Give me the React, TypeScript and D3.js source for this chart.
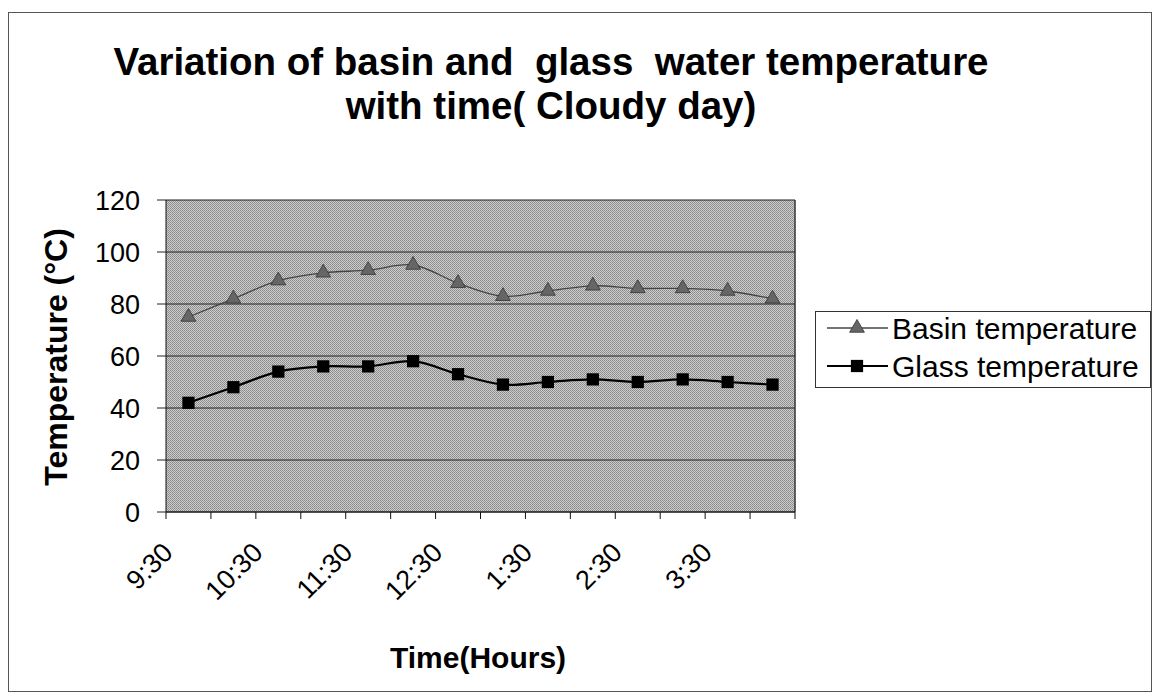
import * as d3 from 'd3';

// half-hour readings, 9:30 to 4:00
const times = ['9:30', '10:00', '10:30', '11:00', '11:30', '12:00', '12:30', '1:00', '1:30', '2:00', '2:30', '3:00', '3:30', '4:00'];
const basinTemp = [75, 82, 89, 92, 93, 95, 88, 83, 85, 87, 86, 86, 85, 82];
const glassTemp = [42, 48, 54, 56, 56, 58, 53, 49, 50, 51, 50, 51, 50, 49];
const tickLabels = ['9:30', '10:30', '11:30', '12:30', '1:30', '2:30', '3:30'];
const yTicks = [0, 20, 40, 60, 80, 100, 120];

const FONT = '"Liberation Sans", Arial, sans-serif';

const App = () => {
	const margin = { top: 200, right: 795, bottom: 512, left: 166 };

	const x = d3.scaleBand<string>().domain(times).range([margin.left, margin.right]);
	const y = d3.scaleLinear().domain([0, 120]).range([margin.bottom, margin.top]);
	const cx = (t: string) => (x(t) ?? 0) + x.bandwidth() / 2;

	const line = d3
		.line<number>()
		.x((d, i) => cx(times[i]))
		.y((d) => y(d))
		.curve(d3.curveCatmullRom.alpha(0.5));

	const tri = d3.symbol(d3.symbolTriangle, 95)()!;
	const sq = d3.symbol(d3.symbolSquare, 150)()!;

	const edges = [...times.map((t) => x(t) ?? 0), margin.right];

	return (
		<div style={{ position: 'absolute', left: 0, top: 0 }}>
			<svg width={1160} height={700} style={{ display: 'block', fontFamily: FONT }}>
				<defs>
					<pattern id="dither" width={2} height={2} patternUnits="userSpaceOnUse">
						<rect width={2} height={2} fill="#cdcdcd" />
						<rect width={1} height={1} fill="#888" />
						<rect x={1} y={1} width={1} height={1} fill="#949494" />
					</pattern>
				</defs>
				<rect width={1160} height={700} fill="#fff" />
				<rect x={8.5} y={12.5} width={1143} height={679} fill="none" stroke="#555" strokeWidth={1} />

				{/* title */}
				<text x={551} y={75} textAnchor="middle" fontSize={38.5} fontWeight="bold" style={{ whiteSpace: 'pre' }}>
					Variation of basin and  glass  water temperature
				</text>
				<text x={551} y={119} textAnchor="middle" fontSize={38.5} fontWeight="bold">
					with time( Cloudy day)
				</text>

				{/* plot area */}
				<rect
					x={margin.left}
					y={margin.top}
					width={margin.right - margin.left}
					height={margin.bottom - margin.top}
					fill="url(#dither)"
				/>
				{yTicks.map((v) => (
					<g key={v}>
						<line x1={margin.left - 9} x2={margin.right} y1={y(v)} y2={y(v)} stroke="#222" strokeWidth={1} />
						<text x={140} y={y(v)} dy="0.36em" textAnchor="end" fontSize={27}>
							{v}
						</text>
					</g>
				))}
				<line x1={margin.left} x2={margin.left} y1={margin.top} y2={margin.bottom} stroke="#111" />
				<line x1={margin.right} x2={margin.right} y1={margin.top} y2={margin.bottom} stroke="#333" strokeWidth={1.5} />
				<line x1={margin.left} x2={margin.right} y1={margin.bottom} y2={margin.bottom} stroke="#111" />
				{edges.map((e, i) => (
					<line key={i} x1={e} x2={e} y1={margin.bottom} y2={margin.bottom + 7} stroke="#111" />
				))}

				{/* x labels on every other category */}
				{tickLabels.map((t) => (
					<text
						key={t}
						transform={`translate(${cx(t) - 14},${margin.bottom + 42}) rotate(-45)`}
						textAnchor="end"
						fontSize={27}
					>
						{t}
					</text>
				))}

				{/* series */}
				<path d={line(basinTemp) ?? ''} fill="none" stroke="#444" strokeWidth={1.3} />
				{basinTemp.map((v, i) => (
					<path key={i} d={tri} transform={`translate(${cx(times[i])},${y(v)})`} fill="#666" stroke="#333" strokeWidth={0.8} />
				))}
				<path d={line(glassTemp) ?? ''} fill="none" stroke="#000" strokeWidth={2.2} />
				{glassTemp.map((v, i) => (
					<path key={i} d={sq} transform={`translate(${cx(times[i])},${y(v)})`} fill="#000" />
				))}

				{/* axis titles */}
				<text transform="translate(67,357) rotate(-90)" textAnchor="middle" fontSize={32} fontWeight="bold">
					Temperature (°C)
				</text>
				<text x={478} y={668} textAnchor="middle" fontSize={30} fontWeight="bold">
					Time(Hours)
				</text>

				{/* legend */}
				<rect x={815.5} y={311.5} width={335} height={76} fill="#fff" stroke="#333" />
				<line x1={827} x2={888} y1={328} y2={328} stroke="#444" strokeWidth={1.3} />
				<path d={tri} transform="translate(857,328)" fill="#666" stroke="#333" strokeWidth={0.8} />
				<text x={892} y={339} fontSize={30}>
					Basin temperature
				</text>
				<line x1={827} x2={888} y1={366} y2={366} stroke="#000" strokeWidth={2.2} />
				<path d={sq} transform="translate(857,366)" fill="#000" />
				<text x={892} y={377} fontSize={30}>
					Glass temperature
				</text>
			</svg>
		</div>
	);
};

export default App;
